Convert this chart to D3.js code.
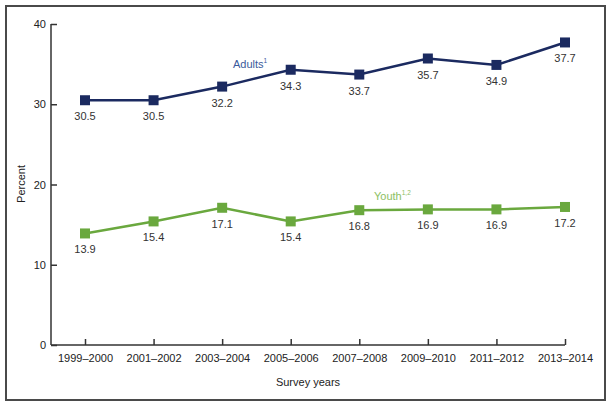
<!DOCTYPE html>
<html><head><meta charset="utf-8">
<script src="https://cdn.jsdelivr.net/npm/d3@7"></script>
<style>body{margin:0;background:#fff}svg{display:block}text{font-family:"Liberation Sans",Arial,sans-serif}</style>
</head><body>
<script>
const categories = ["1999–2000","2001–2002","2003–2004","2005–2006","2007–2008","2009–2010","2011–2012","2013–2014"];
const adults = [30.5,30.5,32.2,34.3,33.7,35.7,34.9,37.7];
const youth = [13.9,15.4,17.1,15.4,16.8,16.9,16.9,17.2];
const yTicks = [0,10,20,30,40];

const W=613,H=407;
const svg=d3.select("body").append("svg").attr("width",W).attr("height",H);
svg.append("rect").attr("x",6).attr("y",6).attr("width",599).attr("height",394)
  .attr("fill","#fff").attr("stroke","#4a4a4a").attr("stroke-width",2);

const x=d3.scalePoint().domain(categories).range([85,565]);
const y=d3.scaleLinear().domain([0,40]).range([345,24]);
const axisColor="#333";

// axes
const gx=svg.append("g").attr("transform","translate(0,345)")
  .call(d3.axisBottom(x).tickSize(-6).tickSizeOuter(0).tickPadding(9));
gx.select(".domain").remove();
gx.selectAll("line").attr("stroke",axisColor).attr("stroke-width",1.5);
gx.selectAll("text").attr("font-size",11).attr("fill","#222");
svg.append("line").attr("x1",51).attr("x2",x(categories[categories.length-1])).attr("y1",345).attr("y2",345)
  .attr("stroke",axisColor).attr("stroke-width",1.5);

const gy=svg.append("g").attr("transform","translate(51,0)")
  .call(d3.axisLeft(y).tickValues(yTicks).tickSize(-6).tickSizeOuter(0).tickPadding(5));
gy.select(".domain").remove();
gy.selectAll("line").attr("stroke",axisColor).attr("stroke-width",1.5);
gy.selectAll("text").attr("font-size",11).attr("fill","#222");
svg.append("line").attr("x1",51).attr("x2",51).attr("y1",y(40)).attr("y2",345)
  .attr("stroke",axisColor).attr("stroke-width",1.5);

svg.append("text").attr("transform","translate(25,184) rotate(-90)").attr("text-anchor","middle")
  .attr("font-size",11).attr("fill","#222").text("Percent");
svg.append("text").attr("x",308).attr("y",386).attr("text-anchor","middle")
  .attr("font-size",11).attr("fill","#222").text("Survey years");

function series(vals,color){
  const line=d3.line().x((d,i)=>x(categories[i])).y(d=>y(d));
  svg.append("path").datum(vals).attr("d",line).attr("fill","none").attr("stroke",color).attr("stroke-width",2.5);
  svg.append("g").selectAll("rect").data(vals).join("rect")
    .attr("x",(d,i)=>x(categories[i])-5).attr("y",d=>y(d)-5).attr("width",10).attr("height",10).attr("fill",color);
  svg.append("g").selectAll("text").data(vals).join("text")
    .attr("x",(d,i)=>x(categories[i])).attr("y",d=>y(d)+20).attr("text-anchor","middle")
    .attr("font-size",11).attr("fill","#333").text(d=>d.toFixed(1));
}
series(adults,"#1b2a60");
series(youth,"#6aa83e");

const la=svg.append("text").attr("x",233).attr("y",68).attr("font-size",11).attr("fill","#3a5a9c");
la.append("tspan").text("Adults");
la.append("tspan").attr("font-size",6.5).attr("dy",-5).text("1");
const ly=svg.append("text").attr("x",374).attr("y",200).attr("font-size",11).attr("fill","#8cc063");
ly.append("tspan").text("Youth");
ly.append("tspan").attr("font-size",6.5).attr("dy",-5).text("1,2");
</script>
</body></html>
